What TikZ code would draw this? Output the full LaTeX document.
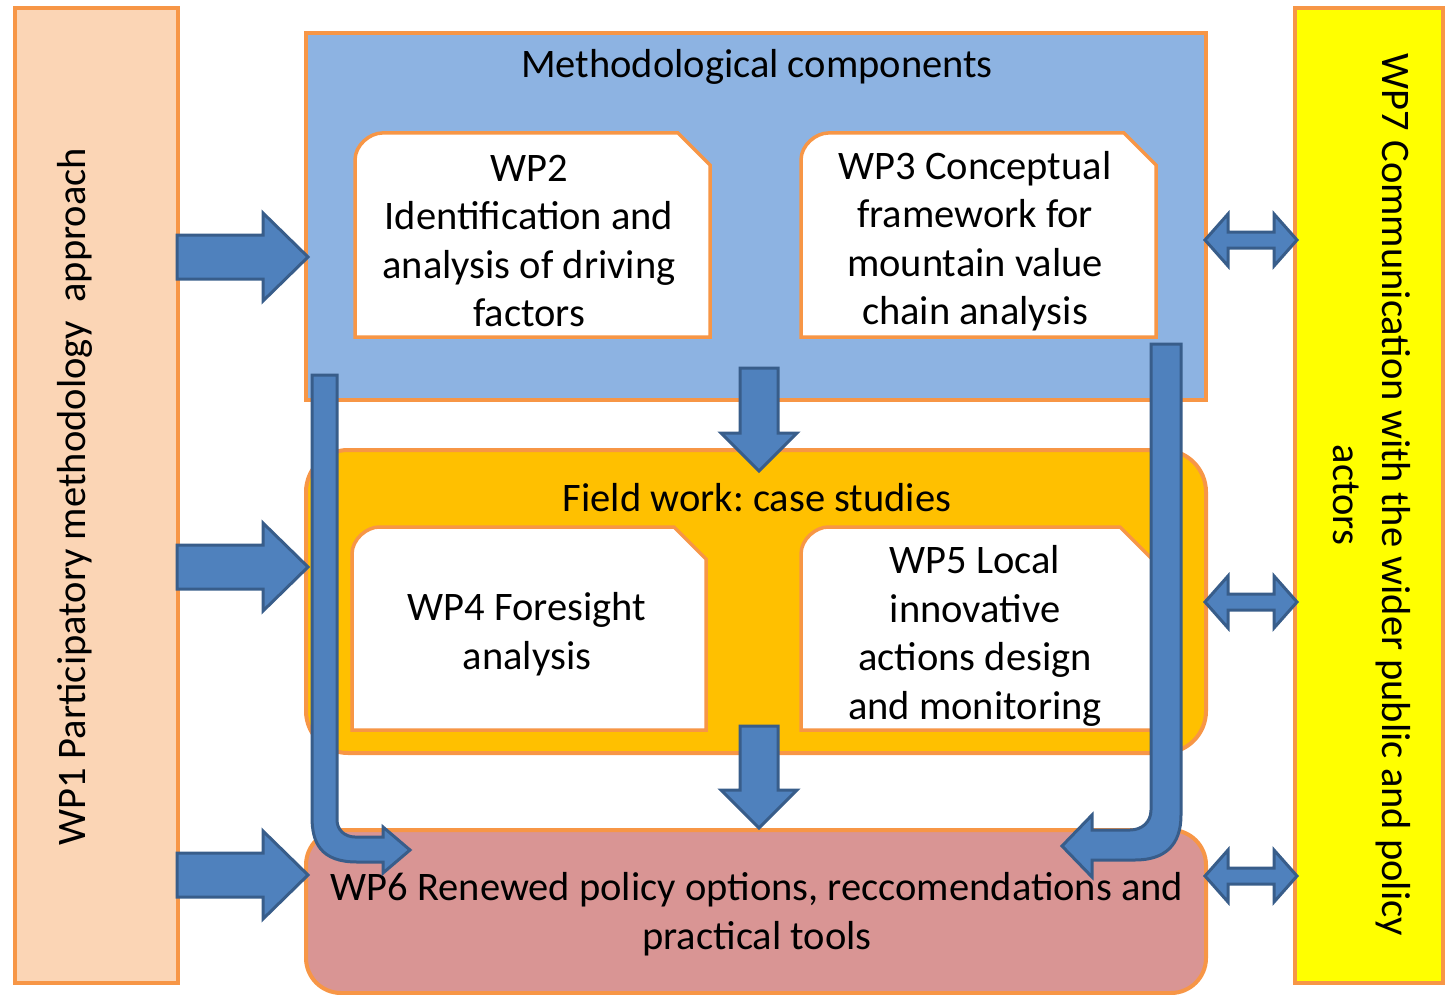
\documentclass[tikz,border=0pt]{standalone}
\usepackage{fontspec}
\setmainfont{Carlito}
\frenchspacing
\definecolor{orng}{HTML}{F79646}
\definecolor{peach}{HTML}{FBD5B5}
\definecolor{methblue}{HTML}{8DB3E2}
\definecolor{fieldor}{HTML}{FFC000}
\definecolor{policy}{HTML}{D99594}
\definecolor{arrfill}{HTML}{4F81BD}
\definecolor{arrline}{HTML}{385D8A}
\definecolor{brightyellow}{HTML}{FFFF00}
\tikzset{
  outerbox/.style={draw=orng, line width=4pt},
  innerbox/.style={draw=orng, line width=3.5pt, fill=white},
  blockarrow/.style={fill=arrfill, draw=arrline, line width=3pt, line join=miter},
  txt/.style={font=\fontsize{40.5}{48.5}\selectfont, align=center, inner sep=0pt, text=black},
}
\begin{document}
\begin{tikzpicture}[x=1pt,y=-1pt]
\useasboundingbox (0,0) rectangle (1445,995);
% side boxes
\draw[outerbox, fill=peach] (15,8) rectangle (178,983);
\draw[outerbox, fill=brightyellow] (1295,8) rectangle (1443,983);
\node[txt, rotate=90] (wp1) at (75,497) {WP1 Participatory methodology\ \ approach};
\node[txt, rotate=-90] (wp7) at (1372,495) {WP7 Communication with the wider public and policy\\actors};
% main boxes
\draw[outerbox, fill=methblue] (306,33) rectangle (1206,400);
\node[txt] (meth) at (757,67) {Methodological components};
\draw[outerbox, fill=fieldor, rounded corners=42pt] (306,450) rectangle (1206,753);
\node[txt] (field) at (757,498) {Field work: case studies};
\draw[outerbox, fill=policy, rounded corners=35pt] (306,830) rectangle (1206,993);
\node[txt] (wp6) at (757,914) {WP6 Renewed policy options, reccomendations and\\practical tools};
% inner boxes
\draw[innerbox] (355,337) -- (355,160) .. controls (355,145) and (370,133) .. (382,133) -- (678,133) -- (710,165) -- (710,337) -- cycle;
\node[txt] (wp2) at (529,241) {WP2\\Identification and\\analysis of driving\\factors};
\draw[innerbox] (801,337) -- (801,160) .. controls (801,145) and (816,133) .. (828,133) -- (1124,133) -- (1156,165) -- (1156,337) -- cycle;
\node[txt] (wp3) at (975,241) {WP3 Conceptual\\framework for\\mountain value\\chain analysis};
\draw[innerbox] (352,730) -- (352,554) .. controls (352,539) and (367,527) .. (379,527) -- (674,527) -- (706,559) -- (706,730) -- cycle;
\node[txt] (wp4) at (527,634) {WP4 Foresight\\analysis};
\draw[innerbox] (801,730) -- (801,554) .. controls (801,539) and (816,527) .. (828,527) -- (1120,527) -- (1152,559) -- (1152,730) -- cycle;
\node[txt] (wp5) at (975,636) {WP5 Local\\innovative\\actions design\\and monitoring};
% left arrows
\foreach \c in {257,567,875}{
  \draw[blockarrow] (177,\c-22) -- (263,\c-22) -- (263,\c-44) -- (308,\c) -- (263,\c+44) -- (263,\c+22) -- (177,\c+22) -- cycle;
}
% double arrows
\foreach \c in {240,602,876}{
  \draw[blockarrow] (1205,\c) -- (1228,\c-26) -- (1228,\c-8) -- (1274,\c-8) -- (1274,\c-26) -- (1297,\c) -- (1274,\c+26) -- (1274,\c+8) -- (1228,\c+8) -- (1228,\c+26) -- cycle;
}
% down arrows
\draw[blockarrow] (740,368) -- (778,368) -- (778,433) -- (797,433) -- (759,471) -- (721,433) -- (740,433) -- cycle;
\draw[blockarrow] (740,726) -- (778,726) -- (778,790) -- (797,790) -- (759,828) -- (721,790) -- (740,790) -- cycle;
% curved left arrow
\draw[blockarrow] (312,375) -- (312,817) .. controls (312,842) and (320,862) .. (357,862) -- (383,862) -- (383,873) -- (410,850) -- (383,827) -- (383,837) -- (355,837) .. controls (345,837) and (337,830) .. (337,820) -- (337,375) -- cycle;
% curved right arrow
\draw[blockarrow] (1181,344) -- (1181,815) .. controls (1181,845) and (1165,860) .. (1135,860) -- (1092,860) -- (1092,877) -- (1062,846) -- (1092,815) -- (1092,830) -- (1130,830) .. controls (1142,830) and (1151,822) .. (1151,810) -- (1151,344) -- cycle;
\end{tikzpicture}
\end{document}
